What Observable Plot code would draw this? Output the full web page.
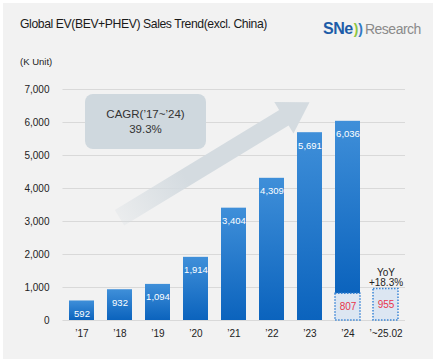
<!DOCTYPE html>
<html><head><meta charset="utf-8">
<script src="https://cdn.jsdelivr.net/npm/d3@7"></script>
<script src="https://cdn.jsdelivr.net/npm/@observablehq/plot@0.6"></script>
<style>
body{margin:0;background:#fff;font-family:"Liberation Sans",Arial,sans-serif;}
#wrap{position:relative;width:436px;height:363px;overflow:hidden}
#panel{position:absolute;left:3px;top:3px;width:430px;height:356px;background:#f2f2f2}
#title{position:absolute;left:20px;top:17px;font-size:12.2px;color:#1a1a1a;letter-spacing:-0.4px;white-space:nowrap}
#unit{position:absolute;left:20px;top:56px;font-size:9.5px;color:#222;white-space:nowrap}
#logo{position:absolute;left:323px;top:20px;white-space:nowrap;line-height:18px}
#logo .sne{font-weight:bold;font-size:16px;color:#1d5ca8;letter-spacing:-0.5px}
#logo .arc1{font-weight:bold;font-size:14px;color:#8dc540;margin-left:1px}
#logo .arc2{font-weight:bold;font-size:14px;color:#2f78c4;margin-left:0px}
#logo .res{font-size:14px;color:#8a8a8a;letter-spacing:-0.5px;margin-left:2px}
#chart{position:absolute;left:0;top:70px}
#cagr{position:absolute;left:85px;top:94px;width:121px;height:55px;background:#cfd8de;border-radius:8px;display:flex;flex-direction:column;justify-content:center;align-items:center;font-size:11.5px;color:#333;line-height:15px}
</style></head>
<body>
<div id="wrap">
  <div id="panel"></div>
  <div id="title"></div>
  <div id="unit"></div>
  <div id="logo"><span class="sne">SNe</span><span class="arc1">)</span><span class="arc2">)</span><span class="res">Research</span></div>
  <div id="chart"></div>
  <div id="cagr"></div>
</div>
<script>
const titleText = "Global EV(BEV+PHEV) Sales Trend(excl. China)";
const unitText = "(K Unit)";
const years = ["\u201917","\u201918","\u201919","\u201920","\u201921","\u201922","\u201923","\u201924","\u2019~25.02"];
const sales = [592, 932, 1094, 1914, 3404, 4309, 5691, 6036, null];
const janFeb = [null, null, null, null, null, null, null, 807, 955];
const yTicks = [0, 1000, 2000, 3000, 4000, 5000, 6000, 7000];
const cagrLines = ["CAGR(\u201917~\u201924)", "39.3%"];
const yoyText = "YoY\n+18.3%";
const arrowFrom = ["\u201918", 3100];
const arrowTo = ["\u201923", 6600];

document.getElementById("title").textContent = titleText;
document.getElementById("unit").textContent = unitText;
document.getElementById("cagr").innerHTML = cagrLines.map(t => `<div>${t}</div>`).join("");

const rows = years.map((year, i) => ({year, sales: sales[i], part: janFeb[i]}));
const fmt = d3.format(",");

const chart = Plot.plot({
  width: 436, height: 289,
  marginTop: 19, marginBottom: 39, marginLeft: 62.5, marginRight: 31,
  style: {background: "transparent", fontFamily: "Liberation Sans, Arial, sans-serif", fontSize: "10px", color: "#222"},
  x: {domain: years, paddingInner: 0.33, paddingOuter: 0.165, label: null, tickSize: 0, tickPadding: 9.5},
  y: {domain: [0, 7000], ticks: yTicks, tickFormat: fmt, label: null, tickSize: 0, tickPadding: 13.5},
  marks: [
    Plot.ruleY(yTicks, {stroke: "#d9d9d9", strokeWidth: 1}),
    Plot.barY(rows.filter(d => d.sales != null), {x: "year", y1: d => d.part ?? 0, y2: "sales", fill: "url(#barGrad)"}),
    Plot.barY(rows.filter(d => d.part != null), {x: "year", y1: 0, y2: "part", fill: "#dce6f2", stroke: "#3b86d6", strokeDasharray: "1.5,1.5", strokeWidth: 1.5}),
    Plot.text(rows.filter(d => d.sales != null), {x: "year", y: "sales", text: d => fmt(d.sales), dy: 13, fill: "white", fontSize: 9.5}),
    Plot.text(rows.filter(d => d.part != null), {x: "year", y: d => d.part / 2, text: d => fmt(d.part), fill: "#e8354b", fontSize: 10}),
    Plot.text(rows.filter(d => d.sales == null && d.part != null), {x: "year", y: "part", text: () => yoyText, lineAnchor: "bottom", dy: -3, fill: "#222", fontSize: 10, lineHeight: 1})
  ]
});
document.getElementById("chart").appendChild(chart);

// gradient defs
const svg = d3.select(chart);
const defs = svg.insert("defs", ":first-child");
const lg = defs.append("linearGradient").attr("id", "barGrad").attr("x1", 0).attr("y1", 0).attr("x2", 0).attr("y2", 1);
lg.append("stop").attr("offset", "0%").attr("stop-color", "#3f8fd9");
lg.append("stop").attr("offset", "100%").attr("stop-color", "#0b63bd");

// decorative trend arrow, positioned through Plot's scales
const sx = chart.scale("x"), sy = chart.scale("y");
const cx = v => sx.apply(v) + sx.bandwidth / 2;
const p0 = [cx(arrowFrom[0]), sy.apply(arrowFrom[1])];
const p1 = [cx(arrowTo[0]), sy.apply(arrowTo[1])];
const dx = p1[0] - p0[0], dy = p1[1] - p0[1], L = Math.hypot(dx, dy);
const u = [dx / L, dy / L], n = [-u[1], u[0]];
const headH = 30, headHalf = 18.5, shaftHalf = 9;
const m = [p1[0] - headH * u[0], p1[1] - headH * u[1]];
const me = [m[0] + 2 * u[0], m[1] + 2 * u[1]];
const pt = (p, k) => `${p[0] + k * n[0]},${p[1] + k * n[1]}`;
const ag = defs.append("linearGradient").attr("id", "arrowGrad").attr("gradientUnits", "userSpaceOnUse")
  .attr("x1", p0[0]).attr("y1", p0[1]).attr("x2", p1[0]).attr("y2", p1[1]);
ag.append("stop").attr("offset", "0%").attr("stop-color", "#d4dbe0").attr("stop-opacity", 0.25);
ag.append("stop").attr("offset", "35%").attr("stop-color", "#d4dbe0").attr("stop-opacity", 1);
ag.append("stop").attr("offset", "100%").attr("stop-color", "#d4dbe0").attr("stop-opacity", 1);
const arrowG = svg.insert("g", "g[aria-label='bar']");
arrowG.append("polygon").attr("points", [pt(p0, shaftHalf), pt(me, shaftHalf), pt(me, -shaftHalf), pt(p0, -shaftHalf)].join(" ")).attr("fill", "url(#arrowGrad)");
arrowG.append("polygon").attr("points", [`${p1[0]},${p1[1]}`, pt(m, headHalf), pt(m, -headHalf)].join(" ")).attr("fill", "url(#arrowGrad)");
</script>
</body></html>
